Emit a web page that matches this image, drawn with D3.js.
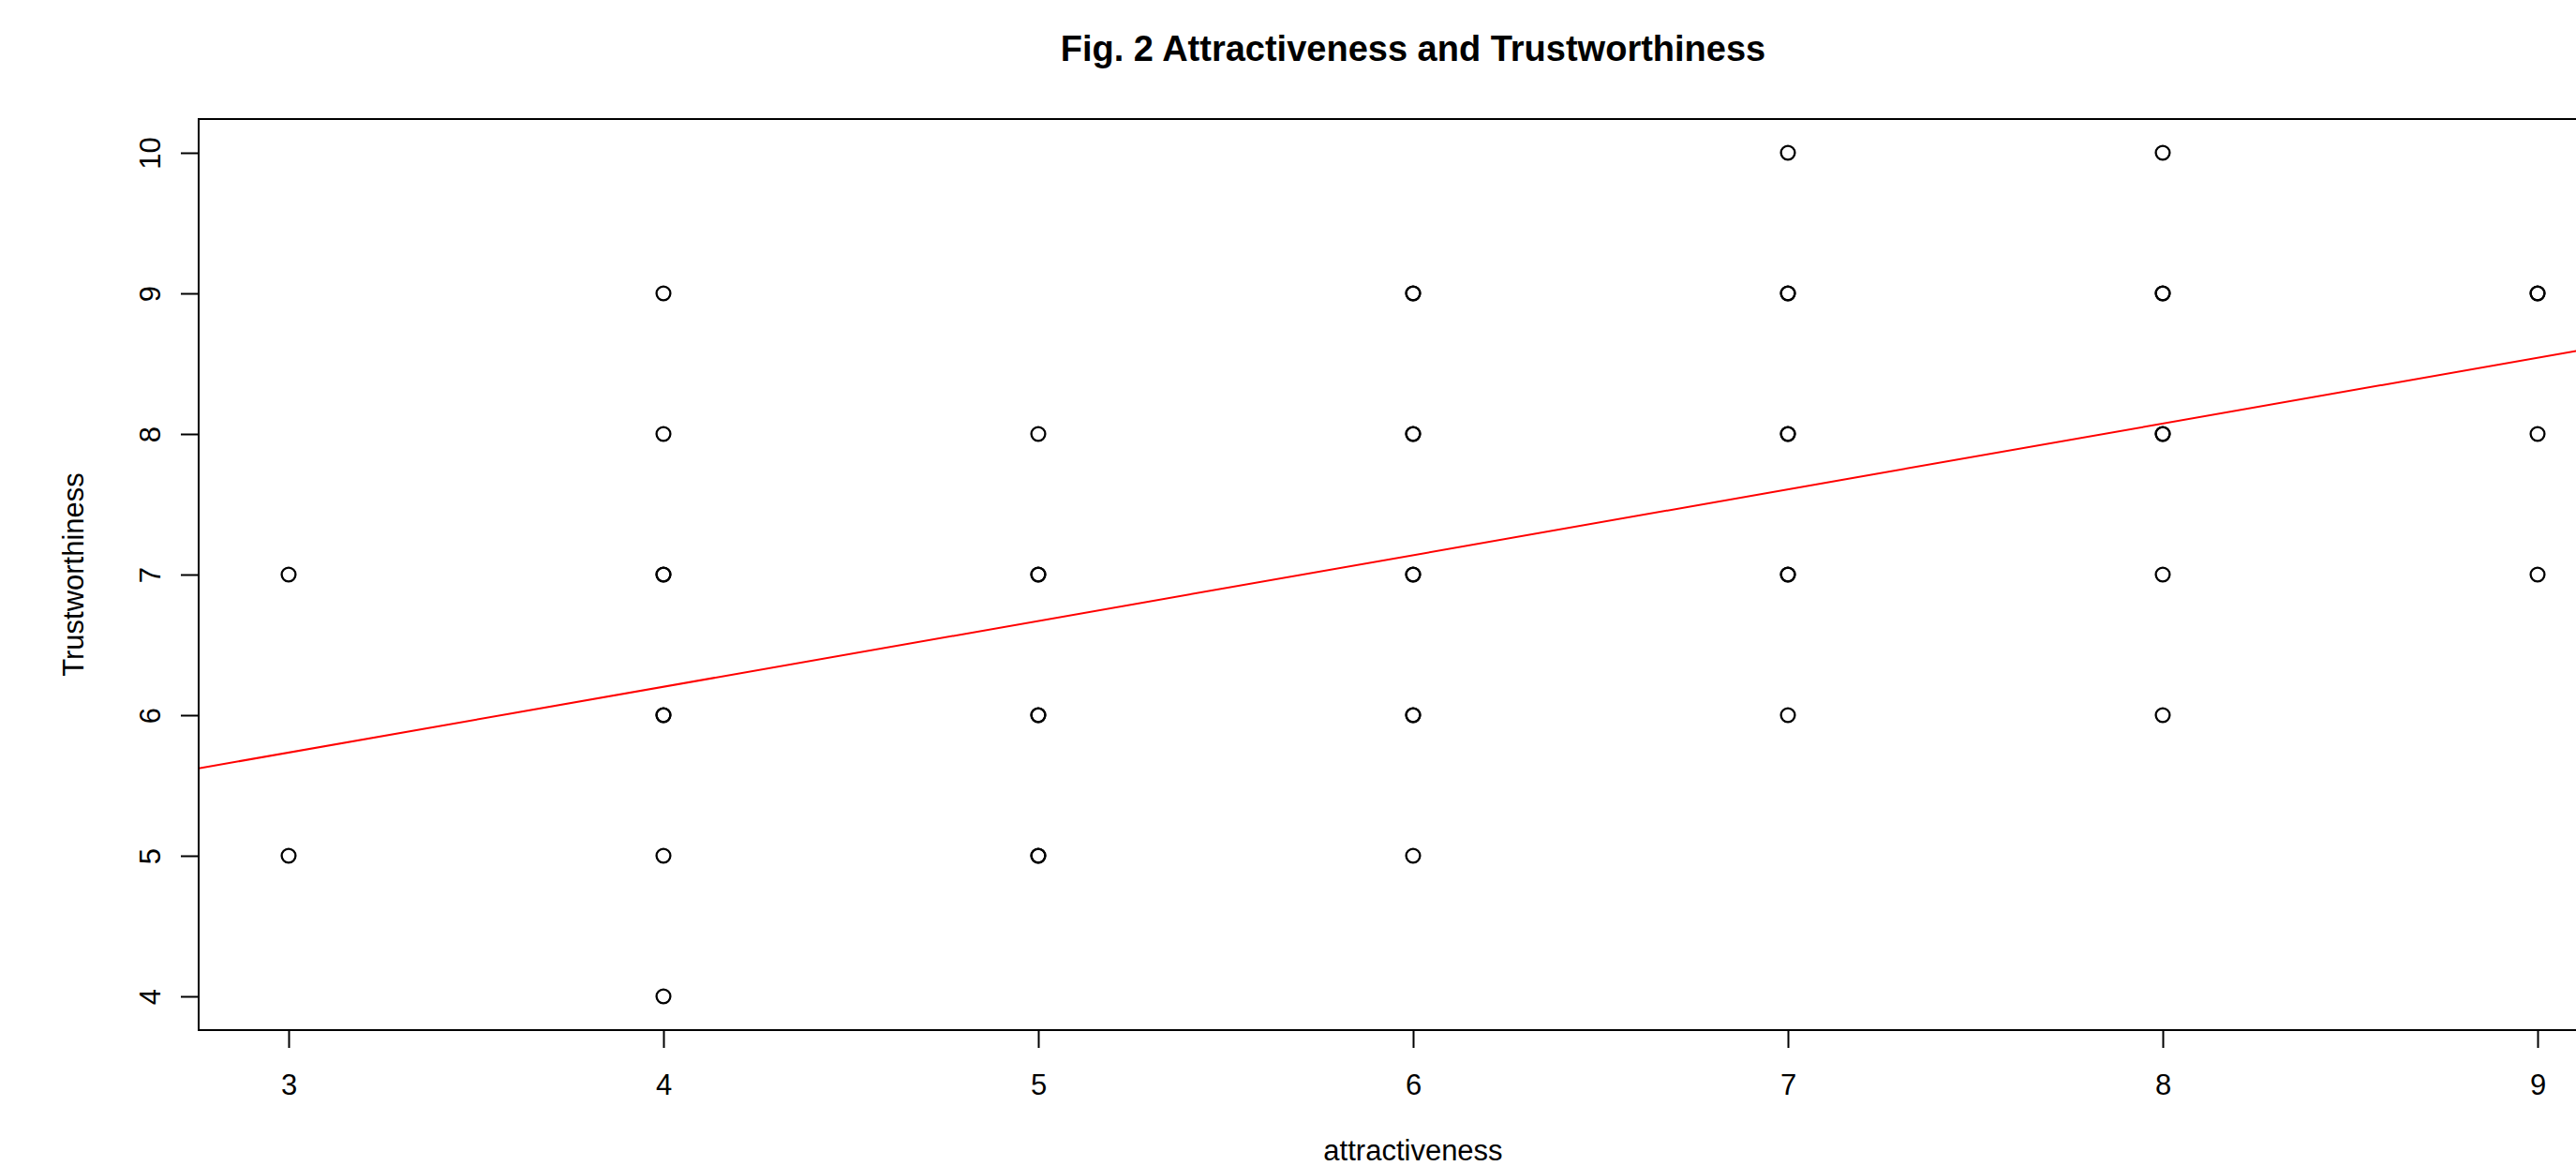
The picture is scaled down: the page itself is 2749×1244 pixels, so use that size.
<!DOCTYPE html>
<html>
<head>
<meta charset="utf-8">
<script src="https://cdn.jsdelivr.net/npm/d3@7"></script>
<style>
  html, body { margin: 0; padding: 0; background: #fff; overflow: hidden; }
  svg { display: block; font-family: "Liberation Sans", Arial, Helvetica, sans-serif; }
</style>
</head>
<body>
<svg id="chart"></svg>
<script>
// scatter data, one entry per observation (repeats = overplotted points)
const attractiveness = [
  3, 3,
  4, 4, 4, 4, 4, 4, 4, 4,
  5, 5, 5, 5, 5, 5, 5,
  6, 6, 6, 6, 6, 6, 6, 6, 6,
  7, 7, 7, 7, 7, 7, 7, 7,
  8, 8, 8, 8, 8, 8, 8,
  9, 9, 9, 9
]
const trustworthiness = [
  7, 5,
  9, 8, 7, 7, 6, 6, 5, 4,
  8, 7, 7, 6, 6, 5, 5,
  9, 9, 8, 8, 7, 7, 6, 6, 5,
  10, 9, 9, 8, 8, 7, 7, 6,
  10, 9, 9, 8, 8, 7, 6,
  9, 9, 8, 7
]
const xTicks = [3, 4, 5, 6, 7, 8, 9]
const yTicks = [4, 5, 6, 7, 8, 9, 10]
// fitted line (abline)
const fitIntercept = 4.33
const fitSlope = 0.468

const title = "Fig. 2 Attractiveness and Trustworthiness"
const xLabel = "attractiveness"
const yLabel = "Trustworthiness"

const width = 2749
const height = 1244
const margin = { top: 127, right: -55, bottom: 145, left: 212 } // plot box runs past the right edge

const data = attractiveness.map((a, i) => ({ x: a, y: trustworthiness[i] }))

// R style 4% padding on each side
const pad = (lo, hi) => [lo - (hi - lo) * 0.04, hi + (hi - lo) * 0.04]
const xDom = pad(d3.min(attractiveness), d3.max(attractiveness))
const yDom = pad(d3.min(trustworthiness), d3.max(trustworthiness))

const x = d3.scaleLinear()
  .domain(xDom)
  .range([margin.left, width - margin.right])
const y = d3.scaleLinear()
  .domain(yDom)
  .range([height - margin.bottom, margin.top])

const svg = d3.select("#chart")
    .attr("width", width)
    .attr("height", height)
    .attr("viewBox", `0 0 ${width} ${height}`)

svg.append("defs").append("clipPath")
    .attr("id", "plot-clip")
  .append("rect")
    .attr("x", x.range()[0])
    .attr("y", y.range()[1])
    .attr("width", x.range()[1] - x.range()[0])
    .attr("height", y.range()[0] - y.range()[1])

// points
svg.append("g")
    .attr("fill", "none")
    .attr("stroke", "#000")
    .attr("stroke-width", 2.3)
  .selectAll("circle")
  .data(data)
  .enter().append("circle")
    .attr("cx", d => x(d.x))
    .attr("cy", d => y(d.y))
    .attr("r", 7.4)

// regression line
svg.append("line")
    .attr("clip-path", "url(#plot-clip)")
    .attr("stroke", "#ff0000")
    .attr("stroke-width", 2)
    .attr("x1", x(xDom[0]))
    .attr("y1", y(fitIntercept + fitSlope * xDom[0]))
    .attr("x2", x(xDom[1]))
    .attr("y2", y(fitIntercept + fitSlope * xDom[1]))

// box
svg.append("rect")
    .attr("fill", "none")
    .attr("stroke", "#000")
    .attr("stroke-width", 2)
    .attr("x", x.range()[0])
    .attr("y", y.range()[1])
    .attr("width", x.range()[1] - x.range()[0])
    .attr("height", y.range()[0] - y.range()[1])

// x axis
svg.append("g")
    .attr("transform", `translate(0,${height - margin.bottom})`)
    .call(d3.axisBottom(x).tickValues(xTicks).tickSize(19).tickFormat(d3.format("d")))
    .call(g => g.select(".domain").remove())
    .call(g => g.selectAll(".tick line").attr("stroke", "#000").attr("stroke-width", 2))
    .call(g => g.selectAll(".tick text")
        .attr("fill", "#000")
        .attr("font-family", null)
        .attr("font-size", 31)
        .attr("y", 69)
        .attr("dy", null))

// y axis, labels rotated like R's las = 0
svg.append("g")
    .attr("transform", `translate(${margin.left},0)`)
    .call(d3.axisLeft(y).tickValues(yTicks).tickSize(19).tickFormat(d3.format("d")))
    .call(g => g.select(".domain").remove())
    .call(g => g.selectAll(".tick line").attr("stroke", "#000").attr("stroke-width", 2))
    .call(g => g.selectAll(".tick text")
        .attr("fill", "#000")
        .attr("font-family", null)
        .attr("font-size", 31)
        .attr("transform", "rotate(-90)")
        .attr("text-anchor", "middle")
        .attr("x", 0)
        .attr("y", -41)
        .attr("dy", null))

const cx = (x.range()[0] + x.range()[1]) / 2
const cy = (y.range()[0] + y.range()[1]) / 2

svg.append("text")
    .attr("x", cx)
    .attr("y", 65)
    .attr("text-anchor", "middle")
    .attr("font-size", 38)
    .attr("font-weight", "bold")
    .text(title)

svg.append("text")
    .attr("x", cx)
    .attr("y", 1238)
    .attr("text-anchor", "middle")
    .attr("font-size", 31)
    .text(xLabel)

svg.append("text")
    .attr("transform", `translate(89,${cy}) rotate(-90)`)
    .attr("text-anchor", "middle")
    .attr("font-size", 31)
    .text(yLabel)
</script>
</body>
</html>
